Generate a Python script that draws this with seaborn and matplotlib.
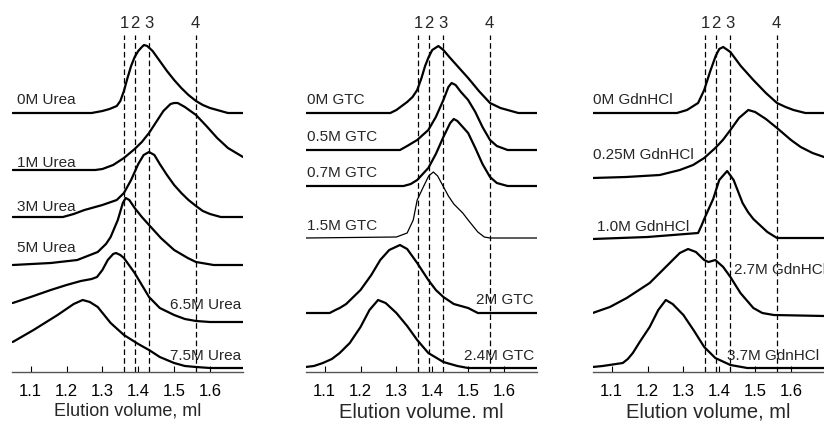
import matplotlib
matplotlib.use("Agg")
import matplotlib.pyplot as plt
import seaborn as sns
import pandas as pd

# ---------------- data (x = elution volume, ml; h = signal above baseline) ----------
marker_x = [1.36, 1.39, 1.43, 1.56]
marker_labels = ["1", "2", "3", "4"]
tick_values = [1.1, 1.2, 1.3, 1.4, 1.5, 1.6]

# Panel 1 : Urea
urea_labels = ["0M Urea", "1M Urea", "3M Urea", "5M Urea", "6.5M Urea", "7.5M Urea"]
urea_base = [259, 202, 155, 107, 50, 4]
urea_0_x = [1.05, 1.27, 1.30, 1.32, 1.34, 1.35, 1.36, 1.37, 1.38, 1.39, 1.40, 1.41, 1.416, 1.425, 1.44, 1.46, 1.48, 1.50, 1.52, 1.54, 1.561, 1.58, 1.60, 1.62, 1.65, 1.692]
urea_0_h = [0, 0, 2, 4, 7, 12, 22, 35, 47, 56, 62, 66, 68, 67, 62, 52, 42, 33, 25, 18, 12, 8, 5, 3, 0, 0]
urea_1_x = [1.05, 1.28, 1.30, 1.33, 1.36, 1.39, 1.41, 1.43, 1.45, 1.47, 1.49, 1.50, 1.51, 1.53, 1.561, 1.59, 1.62, 1.65, 1.692]
urea_1_h = [0, 0, 1, 5, 12, 21, 28, 37, 48, 59, 66, 67, 67, 63, 55, 44, 32, 22, 13]
urea_3_x = [1.05, 1.19, 1.22, 1.25, 1.30, 1.34, 1.36, 1.38, 1.40, 1.415, 1.43, 1.445, 1.46, 1.48, 1.50, 1.52, 1.54, 1.561, 1.58, 1.60, 1.63, 1.692]
urea_3_h = [0, 0, 3, 7, 12, 17, 24, 37, 53, 62, 65, 62, 53, 42, 32, 24, 17, 11, 6, 3, 0, 0]
urea_5_x = [1.05, 1.156, 1.23, 1.287, 1.31, 1.323, 1.343, 1.357, 1.365, 1.375, 1.39, 1.41, 1.43, 1.463, 1.50, 1.538, 1.561, 1.61, 1.692]
urea_5_h = [0, 2, 5, 13, 21, 28, 45, 62, 67, 65, 57, 48, 40, 27, 15, 7, 3, 0, 0]
urea_65_x = [1.05, 1.10, 1.156, 1.20, 1.24, 1.27, 1.285, 1.30, 1.315, 1.33, 1.338, 1.35, 1.36, 1.39, 1.41, 1.43, 1.46, 1.50, 1.53, 1.561, 1.60, 1.692]
urea_65_h = [19, 25, 32, 37, 41, 43, 45, 52, 62, 68, 69, 67, 64, 49, 37, 25, 14, 7, 3, 1, 0, 0]
urea_75_x = [1.05, 1.108, 1.175, 1.22, 1.245, 1.265, 1.287, 1.323, 1.36, 1.40, 1.43, 1.46, 1.50, 1.53, 1.561, 1.60, 1.692]
urea_75_h = [26, 38, 53, 64, 68, 66, 61, 45, 33, 24, 18, 11, 5, 2, 1, 0, 0]

# Panel 2 : GTC
gtc_labels = ["0M GTC", "0.5M GTC", "0.7M GTC", "1.5M GTC", "2M GTC", "2.4M GTC"]
gtc_base = [259, 222, 186, 134, 59, 4]
gtc_0_x = [1.047, 1.283, 1.30, 1.33, 1.345, 1.358, 1.37, 1.38, 1.39, 1.40, 1.417, 1.431, 1.45, 1.47, 1.50, 1.53, 1.561, 1.59, 1.61, 1.64, 1.692]
gtc_0_h = [0, 0, 3, 11, 16, 23, 35, 47, 56, 63, 67, 63, 55, 47, 35, 22, 10, 5, 3, 0, 0]
gtc_05_x = [1.047, 1.31, 1.33, 1.358, 1.389, 1.41, 1.431, 1.445, 1.454, 1.465, 1.48, 1.50, 1.52, 1.54, 1.561, 1.58, 1.61, 1.692]
gtc_05_h = [0, 0, 4, 10, 20, 33, 50, 63, 67, 65, 58, 50, 38, 23, 10, 4, 0, 0]
gtc_07_x = [1.047, 1.32, 1.34, 1.358, 1.389, 1.41, 1.431, 1.45, 1.46, 1.47, 1.485, 1.50, 1.52, 1.54, 1.561, 1.58, 1.61, 1.692]
gtc_07_h = [0, 0, 2, 6, 18, 32, 49, 63, 67, 65, 59, 53, 38, 22, 9, 3, 0, 0]
gtc_15_x = [1.047, 1.30, 1.33, 1.347, 1.358, 1.375, 1.39, 1.403, 1.415, 1.43, 1.445, 1.46, 1.485, 1.50, 1.527, 1.545, 1.561, 1.692]
gtc_15_h = [0, 1, 5, 18, 38, 51, 62, 66, 62, 52, 42, 34, 25, 18, 6, 1, 0, 0]
gtc_2_x = [1.047, 1.114, 1.13, 1.142, 1.16, 1.20, 1.23, 1.255, 1.28, 1.31, 1.33, 1.358, 1.389, 1.41, 1.431, 1.46, 1.50, 1.527, 1.692]
gtc_2_h = [0, 0, 3, 5, 9, 23, 38, 53, 63, 68, 64, 50, 33, 23, 16, 9, 5, 0, 0]
gtc_24_x = [1.047, 1.07, 1.095, 1.12, 1.142, 1.17, 1.20, 1.225, 1.249, 1.27, 1.30, 1.33, 1.358, 1.389, 1.431, 1.47, 1.50, 1.692]
gtc_24_h = [1, 2, 5, 9, 15, 25, 41, 58, 68, 65, 55, 42, 28, 15, 6, 2, 0, 0]

# Panel 3 : GdnHCl
gdn_labels = ["0M GdnHCl", "0.25M GdnHCl", "1.0M GdnHCl", "2.7M GdnHCl", "3.7M GdnHCl"]
gdn_base = [259, 194, 134, 56, 4]
gdn_0_x = [1.047, 1.282, 1.31, 1.341, 1.358, 1.375, 1.39, 1.40, 1.411, 1.431, 1.46, 1.495, 1.53, 1.561, 1.585, 1.607, 1.64, 1.692]
gdn_0_h = [0, 0, 3, 10, 23, 42, 57, 64, 66, 61, 47, 33, 20, 10, 6, 3, 0, 0]
gdn_025_x = [1.047, 1.14, 1.234, 1.29, 1.327, 1.358, 1.389, 1.41, 1.431, 1.455, 1.481, 1.50, 1.53, 1.561, 1.60, 1.627, 1.66, 1.692]
gdn_025_h = [0, 1, 3, 8, 13, 20, 30, 38, 48, 60, 68, 66, 59, 50, 38, 31, 25, 21]
gdn_10_x = [1.047, 1.20, 1.341, 1.35, 1.358, 1.383, 1.40, 1.422, 1.44, 1.465, 1.48, 1.495, 1.534, 1.561, 1.692]
gdn_10_h = [-1, 1, 5, 12, 19, 39, 58, 67, 58, 35, 26, 19, 6, 0, 0]
gdn_27_x = [1.047, 1.095, 1.142, 1.206, 1.262, 1.29, 1.313, 1.335, 1.358, 1.37, 1.389, 1.411, 1.431, 1.459, 1.495, 1.52, 1.552, 1.692]
gdn_27_h = [3, 9, 18, 33, 53, 63, 67, 64, 56, 54, 56, 49, 39, 23, 8, 3, 1, 0]
gdn_37_x = [1.047, 1.075, 1.131, 1.145, 1.159, 1.18, 1.206, 1.23, 1.251, 1.27, 1.30, 1.33, 1.358, 1.389, 1.431, 1.478, 1.692]
gdn_37_h = [1, 2, 5, 9, 15, 27, 41, 58, 68, 64, 53, 37, 21, 10, 3, 0, 0]

# ---------------- style ----------------
sns.set_style("white")
plt.rcParams["font.family"] = ["Liberation Sans", "DejaVu Sans"]

W, H = 824, 421
fig = plt.figure(figsize=(W / 100, H / 100), dpi=100)

AX_BOTTOM = 49
AX_TOP = 421
axes_left_px = [12, 306, 593]
AX_W = 231


def make_df(xs, hs, bases, labels):
    rows = []
    for x, h, b, lab in zip(xs, hs, bases, labels):
        for xi, hi in zip(x, h):
            rows.append({"x": xi, "y": b + hi, "curve": lab})
    return pd.DataFrame(rows)


panels = [
    dict(
        df=make_df([urea_0_x, urea_1_x, urea_3_x, urea_5_x, urea_65_x, urea_75_x],
                   [urea_0_h, urea_1_h, urea_3_h, urea_5_h, urea_65_h, urea_75_h],
                   urea_base, urea_labels),
        thin=[],
        labels=[(1.061, 272, "left"), (1.061, 209, "left"), (1.061, 165, "left"),
                (1.061, 124, "left"), (1.688, 67, "right"), (1.688, 16, "right")],
        text=urea_labels, xlabel="Elution volume, ml", xlsize=13, xlpad=2.5),
    dict(
        df=make_df([gtc_0_x, gtc_05_x, gtc_07_x, gtc_2_x, gtc_24_x],
                   [gtc_0_h, gtc_05_h, gtc_07_h, gtc_2_h, gtc_24_h],
                   [gtc_base[0], gtc_base[1], gtc_base[2], gtc_base[4], gtc_base[5]],
                   [gtc_labels[0], gtc_labels[1], gtc_labels[2], gtc_labels[4], gtc_labels[5]]),
        thin=make_df([gtc_15_x], [gtc_15_h], [gtc_base[3]], [gtc_labels[3]]),
        labels=[(1.052, 272, "left"), (1.052, 235, "left"), (1.052, 199, "left"),
                (1.052, 146, "left"), (1.683, 72, "right"), (1.683, 16, "right")],
        text=gtc_labels, xlabel="Elution volume. ml", xlsize=14.5, xlpad=2.5),
    dict(
        df=make_df([gdn_0_x, gdn_025_x, gdn_10_x, gdn_27_x, gdn_37_x],
                   [gdn_0_h, gdn_025_h, gdn_10_h, gdn_27_h, gdn_37_h],
                   gdn_base, gdn_labels),
        thin=[],
        labels=[(1.049, 272, "left"), (1.049, 217, "left"), (1.058, 145, "left"),
                (1.441, 102, "left"), (1.421, 16, "left")],
        text=gdn_labels, xlabel="Elution volume, ml", xlsize=14.5, xlpad=2.5),
]

for left_px, p in zip(axes_left_px, panels):
    ax = fig.add_axes([left_px / W, AX_BOTTOM / H, AX_W / W, (AX_TOP - AX_BOTTOM) / H])
    ax.set_facecolor("none")
    sns.lineplot(data=p["df"], x="x", y="y", units="curve", estimator=None,
                 sort=False, color="black", lw=1.6, ax=ax, legend=False)
    if len(p["thin"]):
        sns.lineplot(data=p["thin"], x="x", y="y", units="curve", estimator=None,
                     sort=False, color="black", lw=0.9, ax=ax, legend=False)
    ax.vlines(marker_x, 0, 337, colors="black", linestyles=(0, (4.5, 2.5)), lw=0.9)
    for mx, ml in zip(marker_x, marker_labels):
        ax.text(mx, 349, ml, ha="center", va="center", fontsize=12)
    for (tx, ty, ha), t in zip(p["labels"], p["text"]):
        ax.text(tx, ty, t, ha=ha, va="center", fontsize=11, clip_on=False)
    ax.set_xlim(1.048, 1.692)
    ax.set_ylim(0, AX_TOP - AX_BOTTOM)
    ax.set_xticks(tick_values)
    ax.set_xticklabels([f"{v:.1f}" for v in tick_values])
    ax.set_yticks([])
    ax.set_ylabel("")
    ax.set_xlabel(p["xlabel"], fontsize=p["xlsize"], labelpad=p["xlpad"])
    ax.tick_params(axis="x", direction="in", length=4, width=0.8, pad=9,
                   labelsize=12, bottom=True, colors="black")
    for s in ["left", "right", "top"]:
        ax.spines[s].set_visible(False)
    ax.spines["bottom"].set_color("#555555")
    ax.spines["bottom"].set_linewidth(1.0)

fig.savefig("out.png", dpi=100)
